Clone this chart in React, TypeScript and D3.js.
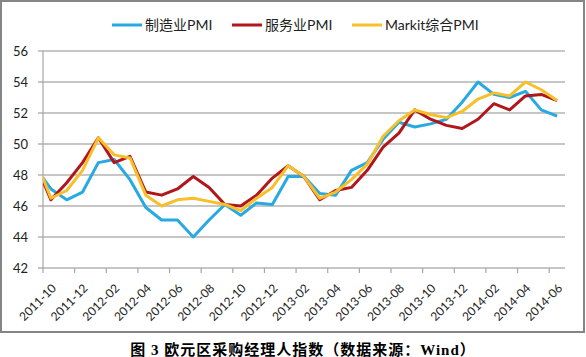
import React from 'react';
import * as d3 from 'd3';

// Months (first entry 2011-09 lies just left of the axis and is clipped, as in the reference)
const months = [
  '2011-09', '2011-10', '2011-11', '2011-12', '2012-01', '2012-02', '2012-03', '2012-04', '2012-05',
  '2012-06', '2012-07', '2012-08', '2012-09', '2012-10', '2012-11', '2012-12', '2013-01', '2013-02',
  '2013-03', '2013-04', '2013-05', '2013-06', '2013-07', '2013-08', '2013-09', '2013-10', '2013-11',
  '2013-12', '2014-01', '2014-02', '2014-03', '2014-04', '2014-05', '2014-06',
];
const manufacturing = [
  48.5, 47.1, 46.4, 46.9, 48.8, 49.0, 47.7, 45.9, 45.1, 45.1, 44.0, 45.1, 46.1, 45.4, 46.2, 46.1, 47.9,
  47.9, 46.8, 46.7, 48.3, 48.8, 50.3, 51.4, 51.1, 51.3, 51.6, 52.7, 54.0, 53.2, 53.0, 53.4, 52.2, 51.8,
];
const services = [
  48.8, 46.4, 47.5, 48.8, 50.4, 48.8, 49.2, 46.9, 46.7, 47.1, 47.9, 47.2, 46.1, 46.0, 46.7, 47.8, 48.6,
  47.9, 46.4, 47.0, 47.2, 48.3, 49.8, 50.7, 52.2, 51.6, 51.2, 51.0, 51.6, 52.6, 52.2, 53.1, 53.2, 52.8,
];
const composite = [
  49.1, 46.5, 47.0, 48.3, 50.4, 49.3, 49.1, 46.7, 46.0, 46.4, 46.5, 46.3, 46.1, 45.7, 46.5, 47.2, 48.6,
  47.9, 46.5, 46.9, 47.7, 48.7, 50.5, 51.5, 52.2, 51.9, 51.7, 52.1, 52.9, 53.3, 53.1, 54.0, 53.5, 52.8,
];
const seriesNames = ['制造业PMI', '服务业PMI', 'Markit综合PMI'];
const yTicks = [42, 44, 46, 48, 50, 52, 54, 56];
const caption = '图 3 欧元区采购经理人指数（数据来源：Wind）';

const W = 586;
const H = 357;
const colors = ['#27A9E1', '#B0161B', '#F7BF2A'];
const FONT = "Lato, 'Noto Sans CJK SC', sans-serif";

export default function App() {
  const left = 43, right = 565, top = 51, bottom = 268;
  const firstShown = 1; // index of 2011-10
  const nShown = months.length - firstShown; // 33 categories
  const x = d3.scaleLinear().domain([firstShown - 0.5, months.length - 0.5]).range([left, right]);
  const y = d3.scaleLinear().domain([42, 56]).range([bottom, top]);

  const allSeries = [manufacturing, services, composite];
  const line = d3
    .line<number>()
    .x((_, i) => x(i))
    .y((d) => y(d));

  const tickIdx = d3.range(0, nShown + 1, 2).map((k) => firstShown - 0.5 + k);
  const labelIdx = d3.range(firstShown, months.length, 2);

  const legendItems = [
    { lx: 112, tx: 145 },
    { lx: 232, tx: 265 },
    { lx: 352, tx: 385 },
  ];

  return (
    <svg
      width={W}
      height={H}
      style={{ position: 'absolute', left: 0, top: 0, background: '#fff' }}
      fontFamily={FONT}
    >
      <defs>
        <clipPath id="plotClip">
          <rect x={left} y={0} width={right - left + 10} height={H} />
        </clipPath>
      </defs>
      <rect x={1} y={1} width={583} height={331} fill="#fff" stroke="#858585" strokeWidth={2} />

      {yTicks.map((t) => (
        <g key={t}>
          <line x1={left - 5} x2={right} y1={y(t)} y2={y(t)} stroke="#b3b3b3" strokeWidth={1.3} />
          <text x={28} y={y(t)} dy="0.35em" textAnchor="end" fontSize={13} fill="#222">
            {t}
          </text>
        </g>
      ))}
      <line x1={left} x2={left} y1={top} y2={bottom} stroke="#a6a6a6" strokeWidth={1.2} />
      {tickIdx.map((t) => (
        <line key={t} x1={x(t)} x2={x(t)} y1={bottom} y2={bottom + 5} stroke="#a6a6a6" strokeWidth={1.2} />
      ))}
      {labelIdx.map((i) => (
        <text
          key={i}
          transform={`translate(${x(i) + 6},${bottom + 21}) rotate(-45)`}
          textAnchor="end"
          fontSize={12}
          fill="#222"
        >
          {months[i]}
        </text>
      ))}

      <g clipPath="url(#plotClip)">
        {allSeries.map((s, k) => (
          <path
            key={k}
            d={line(s) || ''}
            fill="none"
            stroke={colors[k]}
            strokeWidth={3}
            strokeLinejoin="round"
          />
        ))}
      </g>

      {legendItems.map((it, k) => (
        <g key={k}>
          <line x1={it.lx} x2={it.lx + 30} y1={25} y2={25} stroke={colors[k]} strokeWidth={3} />
          <text x={it.tx} y={25} dy="0.35em" fontSize={14} fill="#222">
            {seriesNames[k]}
          </text>
        </g>
      ))}

      <text
        x={303}
        y={350}
        dy="0.35em"
        textAnchor="middle"
        fontSize={15}
        fontWeight="bold"
        letterSpacing={1}
        fontFamily="'Liberation Serif', 'Noto Sans CJK SC', serif"
        fill="#000"
      >
        {caption}
      </text>
    </svg>
  );
}
